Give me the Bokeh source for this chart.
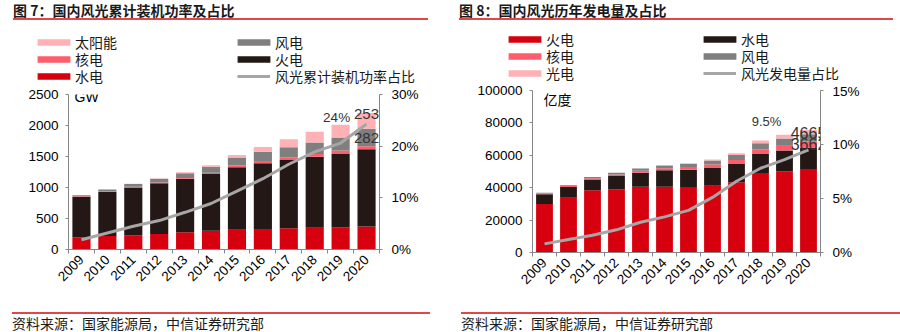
import math
from bokeh.plotting import figure
from bokeh.models import (Range1d, LinearAxis, FixedTicker, Legend, LegendItem,
                          Label, Div, ColumnDataSource)
from bokeh.layouts import row, column
from bokeh.embed import file_html
from bokeh.resources import INLINE

# ---------------- data ----------------
years = [2009, 2010, 2011, 2012, 2013, 2014, 2015, 2016, 2017, 2018, 2019, 2020]

# Fig 7: cumulative installed capacity (GW)
cap_hydro = [197, 216, 231, 249, 280, 302, 320, 332, 344, 352, 358, 370]
cap_thermal = [652, 710, 768, 819, 860, 916, 1006, 1061, 1106, 1144, 1190, 1245]
cap_nuclear = [9, 11, 13, 13, 15, 20, 27, 34, 36, 45, 49, 50]
cap_wind = [17, 30, 46, 61, 76, 96, 131, 149, 164, 184, 210, 282]
cap_solar = [1, 1, 2, 3, 16, 25, 42, 77, 130, 174, 204, 253]
cap_share = [1.9, 3.2, 4.5, 5.6, 7.2, 8.9, 11.3, 13.7, 16.5, 18.9, 20.6, 24.3]
cap_ticks = [0, 500, 1000, 1500, 2000, 2500]
cap_share_ticks = [0, 10, 20, 30]

# Fig 8: annual generation (亿度)
gen_thermal = [29900, 33800, 38500, 39000, 40600, 40600, 40500, 41200, 43300, 49100, 50200, 51500]
gen_hydro = [6000, 6600, 6500, 8200, 8700, 10100, 10600, 11000, 11300, 11700, 12700, 13200]
gen_nuclear = [701, 747, 874, 983, 1115, 1332, 1714, 2132, 2483, 2944, 3487, 3662]
gen_wind = [276, 494, 741, 1030, 1383, 1598, 1856, 2409, 3046, 3660, 4057, 4665]
gen_solar = [3, 1, 6, 36, 84, 235, 395, 665, 1178, 1775, 2240, 2611]
gen_share = [0.8, 1.2, 1.6, 2.1, 2.8, 3.3, 3.9, 5.1, 6.6, 7.8, 8.6, 9.5]
gen_ticks = [0, 20000, 40000, 60000, 80000, 100000]
gen_share_ticks = [0, 5, 10, 15]

# ---------------- styles ----------------
RED = "#D7000F"
DARK = "#231815"
NUC = "#FF5C6C"
GRAY = "#7F7F7F"
SOLAR = "#FFB1B6"
LINE = "#A6A6A6"
AXIS = "#868686"
RULE = "#E0474A"
NUM_FONT = "Liberation Sans"
CJK_FONT = "Noto Sans CJK SC"
ITEM_H = 20  # legend row box height (px)


def style_axis(ax, size="13.5px"):
    ax.axis_line_color = AXIS
    ax.major_tick_line_color = AXIS
    ax.minor_tick_line_color = None
    ax.major_tick_out = 3
    ax.major_tick_in = 0
    ax.minor_tick_out = 0
    ax.minor_tick_in = 0
    ax.major_label_text_font = NUM_FONT
    ax.major_label_text_font_size = size
    ax.major_label_text_color = "#000000"
    ax.major_label_standoff = 7


def style_xaxis(p):
    ax = p.xaxis[0]
    style_axis(ax)
    ax.ticker = FixedTicker(ticks=years,
                            minor_ticks=[y - 0.5 for y in years] + [years[-1] + 0.5])
    ax.major_label_overrides = {y: str(y) for y in years}
    ax.major_tick_out = 0
    ax.minor_tick_line_color = AXIS
    ax.minor_tick_out = 4
    ax.major_label_orientation = math.pi / 4
    ax.major_label_standoff = 4


def no_frame_align(fig):
    if "frame_align" in fig.properties():
        fig.frame_align = False


def legend_strip(height, src, entries, cols_x, rows_y):
    """Strip above a chart carrying its legend (series drawn out of this strip's view)."""
    lp = figure(width=450, height=height, output_backend="svg", toolbar_location=None,
                x_range=Range1d(0, 1), y_range=Range1d(0, 1),
                x_axis_location=None, y_axis_location=None,
                min_border=0, margin=0)
    no_frame_align(lp)
    lp.outline_line_color = None
    lp.background_fill_color = None
    lp.border_fill_color = None
    lp.grid.visible = False
    for i, (label, field, color) in enumerate(entries):
        col, rw = divmod(i, 3)
        is_line = field == "share"
        if is_line:
            r = lp.line("year", field, source=src, line_color=color, line_width=3)
        else:
            r = lp.vbar(x="year", top=field, source=src, width=0.7, color=color,
                        line_color=None)
        x = cols_x[col] if is_line else cols_x[col] - 4
        y = height - rows_y[rw] - ITEM_H / 2
        lg = Legend(items=[LegendItem(label=label, renderers=[r])], location=(x, y))
        lg.label_text_font = CJK_FONT
        lg.label_text_font_size = "14px"
        lg.label_text_color = "#1a1a1a"
        lg.glyph_width = 33 if is_line else 41
        lg.glyph_height = 8
        lg.label_height = 17
        lg.label_standoff = 5 if is_line else 1
        lg.spacing = 0
        lg.padding = 0
        lg.margin = 0
        lg.border_line_color = None
        lg.background_fill_alpha = 0
        lp.add_layout(lg, "center")
    return lp


def make_div(text, left, right, height, line_pos, bold):
    border = "border-bottom" if line_pos == "bottom" else "border-top"
    weight = "bold" if bold else "normal"
    html = (f'<div style="margin-left:{left}px;width:{right - left}px;height:{height - 2}px;'
            f'{border}:2px solid {RULE};font-family:\'{CJK_FONT}\';font-size:14px;'
            f'font-weight:{weight};line-height:{height - 2}px;color:#1a1a1a;white-space:nowrap;">'
            f'{text}</div>')
    return Div(text=html, width=450, height=height, margin=0)


# ---------------- figure 7 ----------------
src1 = ColumnDataSource(dict(year=years, hydro=cap_hydro, thermal=cap_thermal,
                             nuclear=cap_nuclear, wind=cap_wind, solar=cap_solar,
                             share=cap_share))
p1 = figure(width=450, height=226, output_backend="svg", toolbar_location=None,
            x_range=Range1d(years[0] - 0.5, years[-1] + 0.5),
            y_range=Range1d(cap_ticks[0], cap_ticks[-1]),
            min_border_left=68, min_border_right=71, min_border_top=8,
            min_border_bottom=63, margin=0)
no_frame_align(p1)
p1.extra_y_ranges = {"share": Range1d(cap_share_ticks[0], cap_share_ticks[-1])}
p1.outline_line_color = None
p1.grid.visible = False
p1.background_fill_color = None
p1.border_fill_color = None

r1 = p1.vbar_stack(["hydro", "thermal", "nuclear", "wind", "solar"], x="year", width=0.7,
                   color=[RED, DARK, NUC, GRAY, SOLAR], line_color=None, source=src1)
l1 = p1.line("year", "share", y_range_name="share", line_color=LINE, line_width=3, source=src1)

style_xaxis(p1)
style_axis(p1.yaxis[0])
p1.yaxis[0].ticker = FixedTicker(ticks=cap_ticks)
p1.yaxis[0].major_label_overrides = {t: str(t) for t in cap_ticks}
ax_r1 = LinearAxis(y_range_name="share")
style_axis(ax_r1)
ax_r1.ticker = FixedTicker(ticks=cap_share_ticks)
ax_r1.major_label_overrides = {t: f"{t}%" for t in cap_share_ticks}
ax_r1.major_label_standoff = 9
p1.add_layout(ax_r1, "right")

p1.add_layout(Label(x=years[0] - 0.5, y=cap_ticks[-1], x_offset=6, y_offset=-2, text="GW",
                    text_font=NUM_FONT, text_font_size="14px", text_baseline="middle",
                    text_color="#000000"))
tot20 = cap_hydro[-1] + cap_thermal[-1] + cap_nuclear[-1] + cap_wind[-1] + cap_solar[-1]
p1.add_layout(Label(x=years[-1], y=tot20, text=str(cap_solar[-1]), text_align="center",
                    text_baseline="middle", text_font=NUM_FONT, text_font_size="15px",
                    text_color="#333333", y_offset=-1))
wind_mid = tot20 - cap_solar[-1] - cap_wind[-1] / 2
p1.add_layout(Label(x=years[-1], y=wind_mid, text=str(cap_wind[-1]), text_align="center",
                    text_baseline="middle", text_font=NUM_FONT, text_font_size="15px",
                    text_color="#333333"))
p1.add_layout(Label(x=years[-2], y=cap_share[-1], y_range_name="share", x_offset=-4, y_offset=6,
                    text=f"{round(cap_share[-1])}%", text_align="center", text_baseline="middle",
                    text_font=NUM_FONT, text_font_size="13.5px", text_color="#333333"))

# strip spans page y 22..86; rows centred at page y 42, 59, 76
leg1 = legend_strip(64, src1,
                    [("太阳能", "solar", SOLAR), ("核电", "nuclear", NUC), ("水电", "hydro", RED),
                     ("风电", "wind", GRAY), ("火电", "thermal", DARK),
                     ("风光累计装机功率占比", "share", LINE)],
                    [37, 237], [20, 37, 54])

# ---------------- figure 8 ----------------
src2 = ColumnDataSource(dict(year=years, thermal=gen_thermal, hydro=gen_hydro,
                             nuclear=gen_nuclear, wind=gen_wind, solar=gen_solar,
                             share=gen_share))
p2 = figure(width=450, height=229, output_backend="svg", toolbar_location=None,
            x_range=Range1d(years[0] - 0.5, years[-1] + 0.5),
            y_range=Range1d(gen_ticks[0], gen_ticks[-1]),
            min_border_left=82, min_border_right=80, min_border_top=7,
            min_border_bottom=60, margin=0)
no_frame_align(p2)
p2.extra_y_ranges = {"share": Range1d(gen_share_ticks[0], gen_share_ticks[-1])}
p2.outline_line_color = None
p2.grid.visible = False
p2.background_fill_color = None
p2.border_fill_color = None

r2 = p2.vbar_stack(["thermal", "hydro", "nuclear", "wind", "solar"], x="year", width=0.7,
                   color=[RED, DARK, NUC, GRAY, SOLAR], line_color=None, source=src2)
l2 = p2.line("year", "share", y_range_name="share", line_color=LINE, line_width=3, source=src2)

style_xaxis(p2)
style_axis(p2.yaxis[0])
p2.yaxis[0].ticker = FixedTicker(ticks=gen_ticks)
p2.yaxis[0].major_label_overrides = {t: str(t) for t in gen_ticks}
ax_r2 = LinearAxis(y_range_name="share")
style_axis(ax_r2)
ax_r2.ticker = FixedTicker(ticks=gen_share_ticks)
ax_r2.major_label_overrides = {t: f"{t}%" for t in gen_share_ticks}
ax_r2.major_label_standoff = 9
p2.add_layout(ax_r2, "right")

p2.add_layout(Label(x=years[0] - 0.5, y=gen_ticks[-1], x_offset=11, y_offset=-8, text="亿度",
                    text_font=CJK_FONT, text_font_size="14px", text_baseline="middle",
                    text_color="#000000"))
gtot20 = gen_thermal[-1] + gen_hydro[-1] + gen_nuclear[-1] + gen_wind[-1] + gen_solar[-1]
p2.add_layout(Label(x=years[-1], y=gtot20, text=str(gen_wind[-1]), text_align="center",
                    text_baseline="middle", text_font=NUM_FONT, text_font_size="16px",
                    text_color="#333333", y_offset=-3))
nuc_mid = gen_thermal[-1] + gen_hydro[-1] + gen_nuclear[-1] / 2
p2.add_layout(Label(x=years[-1], y=nuc_mid, text=str(gen_nuclear[-1]), text_align="center",
                    text_baseline="middle", text_font=NUM_FONT, text_font_size="16px",
                    text_color="#333333", y_offset=1))
p2.add_layout(Label(x=years[-2], y=gen_share[-1], y_range_name="share", x_offset=-18, y_offset=28,
                    text=f"{gen_share[-1]}%", text_align="center", text_baseline="middle",
                    text_font=NUM_FONT, text_font_size="13px", text_color="#333333"))

# strip spans page y 22..83; rows centred at page y 39, 56, 73
leg2 = legend_strip(61, src2,
                    [("火电", "thermal", RED), ("核电", "nuclear", NUC), ("光电", "solar", SOLAR),
                     ("水电", "hydro", DARK), ("风电", "wind", GRAY),
                     ("风光发电量占比", "share", LINE)],
                    [58, 253], [17, 34, 51])

# ---------------- page ----------------
t1 = make_div("图 7：国内风光累计装机功率及占比", 13, 428, 22, "bottom", True)
f1 = make_div("资料来源：国家能源局，中信证券研究部", 12, 430, 20, "top", False)
t2 = make_div("图 8：国内风光历年发电量及占比", 9, 443, 22, "bottom", True)
f2 = make_div("资料来源：国家能源局，中信证券研究部", 11, 450, 20, "top", False)

layout = row(column(t1, leg1, p1, f1, spacing=0, margin=0),
             column(t2, leg2, p2, f2, spacing=0, margin=0), spacing=0, margin=0)
open("out.html", "w").write(file_html(layout, INLINE))
